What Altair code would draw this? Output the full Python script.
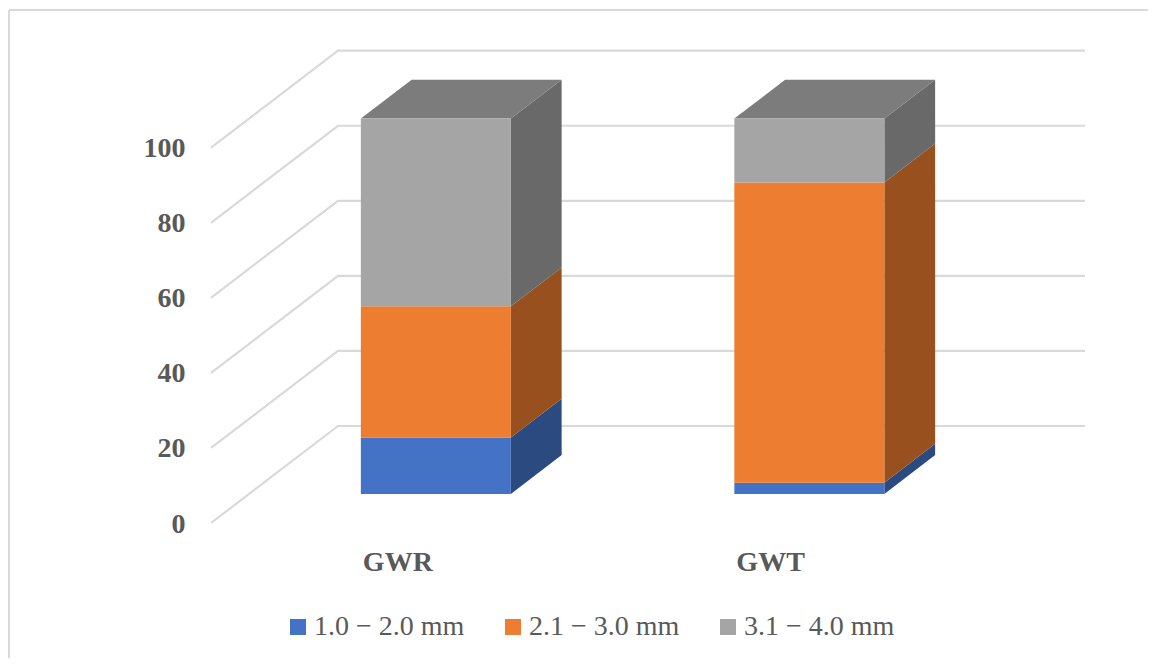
import altair as alt
import pandas as pd

categories = ["GWR", "GWT"]
series = ["1.0 − 2.0 mm", "2.1 − 3.0 mm", "3.1 − 4.0 mm"]
values = {"GWR": [15, 35, 50], "GWT": [3, 80, 17]}
grid_ticks = [0, 20, 40, 60, 80, 100]
front_colors = ["#4472C4", "#ED7D31", "#A5A5A5"]
side_colors = ["#2A4A80", "#97501E", "#696969"]
top_color = "#7C7C7C"
grid_color = "#D9D9D9"
text_color = "#595959"
FONT = "Liberation Serif"

W, H = 1140, 650
Y0, PX_PER_UNIT = 515, 3.753
FLOOR_LEFT, FLOOR_W, DEPTH_X, DEPTH_V = 203, 747, 127, 97 / 3.753
BAR_W, D0, D1 = 150, 0.30, 0.70


def px(u, d):
    return FLOOR_LEFT + u + DEPTH_X * d


def py(v, d):
    return v + DEPTH_V * d


x_scale = alt.Scale(domain=[0, W], range=[0, W], nice=False, zero=False)
y_scale = alt.Scale(domain=[(Y0 - H) / PX_PER_UNIT, Y0 / PX_PER_UNIT], nice=False, zero=False)
y_axis = alt.Axis(
    values=grid_ticks, orient="left", offset=-177, domain=False, ticks=False, grid=False,
    labelPadding=0, labelOffset=1, labelFont=FONT, labelFontSize=28, labelFontWeight="bold",
    labelColor=text_color, format="d", title=None)
X = lambda f: alt.X(f"{f}:Q", scale=x_scale, axis=None)
X2 = lambda f: alt.X2(f"{f}")
Y = lambda f: alt.Y(f"{f}:Q", scale=y_scale, axis=y_axis)

# wall and floor lines
grid_rows = []
for t in grid_ticks:
    for i, (u, d) in enumerate([(0, 0), (0, 1), (FLOOR_W, 1)]):
        grid_rows.append({"tick": t, "i": i, "x": px(u, d), "y": py(t, d)})
grid = alt.Chart(pd.DataFrame(grid_rows)).mark_line(
    color=grid_color, strokeWidth=2.2, strokeJoin="miter"
).encode(x=X("x"), y=Y("y"), detail="tick:N", order="i:Q")

front_rows, side_rows, top_rows, label_rows = [], [], [], []
for ci, cat in enumerate(categories):
    centre = (ci + 0.5) * FLOOR_W / len(categories)
    left, right = centre - BAR_W / 2, centre + BAR_W / 2
    base = 0
    for si, val in enumerate(values[cat]):
        lo, hi = base, base + val
        front_rows.append({"series": series[si], "x": px(left, D0), "x2": px(right, D0),
                           "y": py(lo, D0), "y2": py(hi, D0)})
        for d in (D0, D1):
            side_rows.append({"key": f"{cat}{si}", "fill": side_colors[si], "x": px(right, d),
                              "y": py(lo, d), "y2": py(hi, d)})
        base = hi
    for d in (D0, D1):
        top_rows.append({"key": cat, "y": py(base, d), "x": px(left, d), "x2": px(right, d)})
    label_rows.append({"label": cat, "x": px(left, D0) + 2, "y": -10.7})

front = alt.Chart(pd.DataFrame(front_rows)).mark_rect(strokeWidth=0).encode(
    x=X("x"), x2=X2("x2"), y=Y("y"), y2=alt.Y2("y2"),
    color=alt.Color("series:N", scale=alt.Scale(domain=series, range=front_colors), legend=alt.Legend(
        title=None, orient="none", legendX=276, legendY=605, direction="horizontal", columns=3,
        symbolType="square", symbolSize=256, symbolStrokeWidth=0, symbolOpacity=1,
        labelFont=FONT, labelFontSize=28, labelColor=text_color, labelLimit=300,
        labelOffset=2, columnPadding=34, gridAlign="each", padding=0)),
)

side = alt.Chart(pd.DataFrame(side_rows)).mark_area(strokeWidth=0, interpolate="linear").encode(
    x=X("x"), y=Y("y"), y2=alt.Y2("y2"),
    detail="key:N",
    fill=alt.Fill("fill:N", scale=None),
)

top = alt.Chart(pd.DataFrame(top_rows)).mark_area(orient="horizontal", color=top_color, strokeWidth=0).encode(
    y=Y("y"), x=X("x"), x2=X2("x2"), detail="key:N",
)

labels = alt.Chart(pd.DataFrame(label_rows)).mark_text(
    align="left", baseline="middle", font=FONT, fontSize=28, fontWeight="bold", color=text_color
).encode(x=X("x"), y=Y("y"), text="label:N")

frame_left = alt.Chart().mark_rule(color=grid_color, strokeWidth=2).encode(
    x=alt.value(1), y=alt.value(2), y2=alt.value(H))
frame_top = alt.Chart().mark_rule(color=grid_color, strokeWidth=2).encode(
    y=alt.value(2), x=alt.value(1), x2=alt.value(W))

chart = alt.layer(frame_left, frame_top, grid, side, top, front, labels).properties(
    width=W, height=H, padding=0, autosize=alt.AutoSizeParams(type="none"), background="white",
).configure_view(stroke=None)

chart.save("out.html", embed_options={"renderer": "svg", "actions": False})
